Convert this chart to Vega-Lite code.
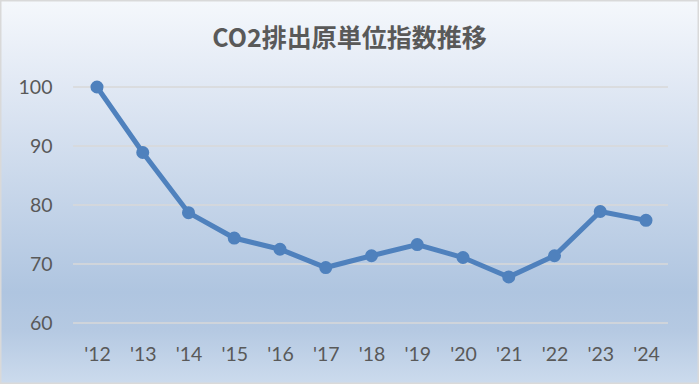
{
  "$schema": "https://vega.github.io/schema/vega-lite/v6.json",
  "width": 699,
  "height": 384,
  "padding": 0,
  "autosize": {"type": "none"},
  "background": "#ffffff",
  "config": {
    "view": {
      "fill": {
        "gradient": "linear",
        "x1": 0, "y1": 0, "x2": 0, "y2": 1,
        "stops": [
          {"offset": 0, "color": "#f5f8fc"},
          {"offset": 0.2, "color": "#e3eaf5"},
          {"offset": 0.76, "color": "#afc5e0"},
          {"offset": 0.86, "color": "#b5c9e2"},
          {"offset": 1, "color": "#ccdbed"}
        ]
      },
      "stroke": "#d9d9d9",
      "strokeWidth": 3
    },
    "axis": {"labelFont": "Lato", "labelFontSize": 19.5, "labelColor": "#595959"}
  },
  "title": {
    "text": "CO2排出原単位指数推移",
    "font": "Noto Sans CJK JP",
    "fontSize": 25,
    "fontWeight": "bold",
    "color": "#595959",
    "anchor": "middle",
    "offset": -52
  },
  "datasets": {
    "series": [
      {"year": 12, "index": 100},
      {"year": 13, "index": 88.9},
      {"year": 14, "index": 78.7},
      {"year": 15, "index": 74.4},
      {"year": 16, "index": 72.5},
      {"year": 17, "index": 69.4},
      {"year": 18, "index": 71.4},
      {"year": 19, "index": 73.3},
      {"year": 20, "index": 71.1},
      {"year": 21, "index": 67.8},
      {"year": 22, "index": 71.4},
      {"year": 23, "index": 78.9},
      {"year": 24, "index": 77.4}
    ],
    "grid": [
      {"g": 60}, {"g": 70}, {"g": 80}, {"g": 90}, {"g": 100}
    ]
  },
  "layer": [
    {
      "data": {"name": "grid"},
      "mark": {"type": "rule", "color": "#d9d9d9", "strokeWidth": 1.5},
      "encoding": {
        "y": {
          "field": "g", "type": "quantitative",
          "scale": {"domain": [49.661, 114.746], "nice": false, "zero": false},
          "axis": {"title": null, "orient": "left", "offset": -52, "values": [60, 70, 80, 90, 100], "labelPadding": 0, "ticks": false, "tickSize": 0, "domain": false, "grid": false, "labelAlign": "right", "labelBaseline": "middle"}
        },
        "x": {
          "datum": 11.476, "type": "quantitative",
          "scale": {"domain": [9.8798, 25.1585], "nice": false, "zero": false},
          "axis": {"title": null, "orient": "bottom", "offset": -24, "values": [12, 13, 14, 15, 16, 17, 18, 19, 20, 21, 22, 23, 24], "labelExpr": "\"'\" + datum.value", "labelBaseline": "alphabetic", "labelPadding": 0, "ticks": false, "tickSize": 0, "domain": false, "grid": false, "labelFlush": false, "labelOverlap": false, "labelBound": false}
        },
        "x2": {"datum": 24.481}
      }
    },
    {
      "data": {"name": "series"},
      "mark": {"type": "line", "color": "#4f81bd", "strokeWidth": 5, "point": {"filled": true, "size": 170, "color": "#4f81bd", "opacity": 1}},
      "encoding": {
        "x": {
          "field": "year", "type": "quantitative",
          "axis": {"title": null, "orient": "bottom", "offset": -24, "values": [12, 13, 14, 15, 16, 17, 18, 19, 20, 21, 22, 23, 24], "labelExpr": "\"'\" + datum.value", "labelBaseline": "alphabetic", "labelPadding": 0, "ticks": false, "tickSize": 0, "domain": false, "grid": false, "labelFlush": false, "labelOverlap": false, "labelBound": false}
        },
        "y": {
          "field": "index", "type": "quantitative",
          "axis": {"title": null, "orient": "left", "offset": -52, "values": [60, 70, 80, 90, 100], "labelPadding": 0, "ticks": false, "tickSize": 0, "domain": false, "grid": false, "labelAlign": "right", "labelBaseline": "middle"}
        }
      }
    }
  ]
}
